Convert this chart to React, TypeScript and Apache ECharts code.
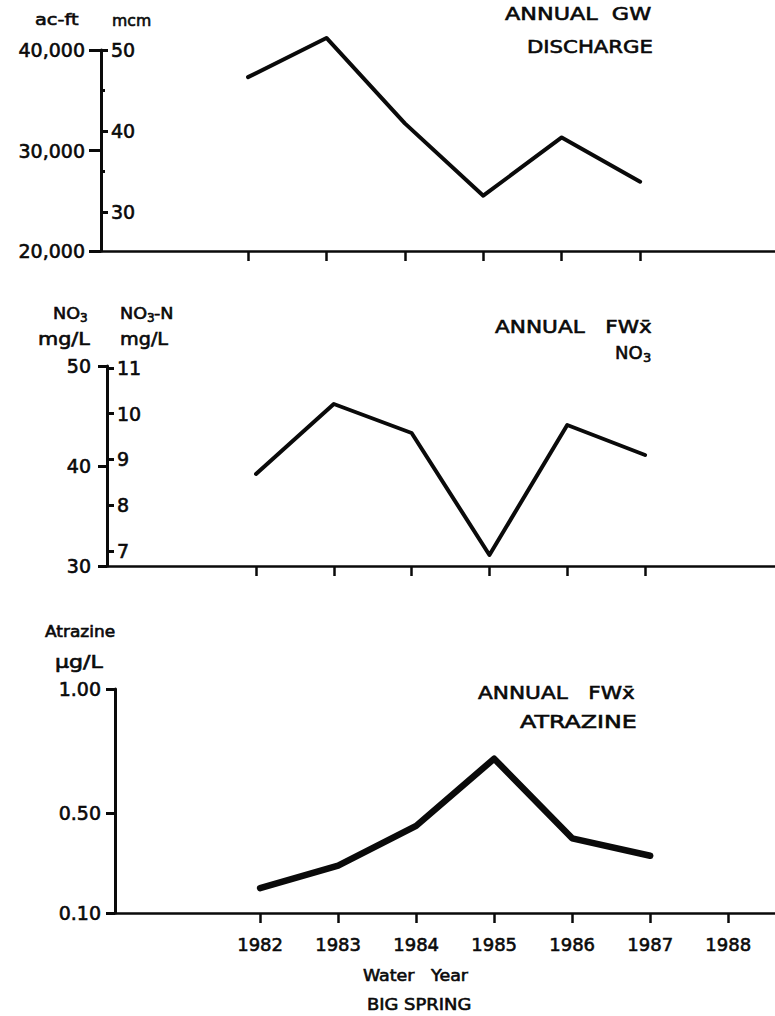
import React, { useEffect, useRef } from "react";
import * as echarts from "echarts";

const years = [1982, 1983, 1984, 1985, 1986, 1987];
const axisYearsTop = [1982, 1983, 1984, 1985, 1986, 1987];
const axisYearsBottom = [1982, 1983, 1984, 1985, 1986, 1987, 1988];
const dischargeAcFt = [37300, 41200, 32700, 25500, 31300, 26900];
const no3 = [39.2, 46.2, 43.3, 31.1, 44.1, 41.1];
const atrazine = [0.2, 0.29, 0.45, 0.72, 0.4, 0.33];
const acFtTicks = [20000, 30000, 40000];
const mcmTicks = [30, 40, 50];
const mcmMinorTicks = [35, 45];
const no3Ticks = [30, 40, 50];
const no3nTicks = [7, 8, 9, 10, 11];
const atrazineTicks = [0.1, 0.5, 1.0];

const FONT = "DejaVu Sans";
const INK = "#0a0a0a";
const SP = "\u00a0";

function pairs(vals: number[]) {
  return years.map((y, i) => [y, vals[i]]);
}

function txt(x: number, y: number, text: string, size: number, scaleX = 1) {
  return {
    type: "text",
    x,
    y,
    scaleX,
    style: {
      text,
      fill: INK,
      stroke: INK,
      lineWidth: 0.6,
      font: `${size}px "${FONT}"`,
      textAlign: "left",
      textVerticalAlign: "middle",
    },
  };
}

export default function App() {
  const ref = useRef<HTMLDivElement>(null);
  useEffect(() => {
    if (!ref.current) return;
    const chart = echarts.init(ref.current, null, { renderer: "svg" });

    const labelStyle = {
      color: INK,
      fontFamily: FONT,
      textBorderColor: INK,
      textBorderWidth: 0.6,
    };

    const xAxisBase = (gridIndex: number, min: number, max: number, ticks: number[], showLabels: boolean) => ({
      type: "value",
      gridIndex,
      min,
      max,
      position: "bottom",
      axisLine: { show: true, onZero: false, lineStyle: { color: INK, width: 2.5 } },
      axisTick: { show: true, customValues: ticks, length: 10, lineStyle: { color: INK, width: 2.5 } },
      axisLabel: {
        show: showLabels,
        customValues: ticks,
        formatter: (v: number) => String(v),
        ...labelStyle,
        fontSize: 18,
        margin: 22,
      },
      splitLine: { show: false },
    });

    const yLeft = (gridIndex: number, min: number, max: number, ticks: number[], fmt: (v: number) => string, tickLen: number, margin: number) => ({
      type: "value",
      gridIndex,
      min,
      max,
      position: "left",
      axisLine: { show: true, onZero: false, lineStyle: { color: INK, width: 3 } },
      axisTick: { show: true, customValues: ticks, length: tickLen, lineStyle: { color: INK, width: 3 } },
      axisLabel: { customValues: ticks, formatter: fmt, ...labelStyle, fontSize: 19, margin },
      splitLine: { show: false },
    });

    const yInside = (gridIndex: number, min: number, max: number, ticks: number[], tickLen: number, showLabels: boolean) => ({
      type: "value",
      gridIndex,
      min,
      max,
      position: "left",
      axisLine: { show: false, onZero: false },
      axisTick: { show: true, inside: true, customValues: ticks, length: tickLen, lineStyle: { color: INK, width: 3 } },
      axisLabel: {
        show: showLabels,
        inside: true,
        customValues: ticks,
        formatter: (v: number) => String(v),
        ...labelStyle,
        fontSize: 19,
        margin: 10,
      },
      splitLine: { show: false },
    });

    const lineSeries = (xi: number, yi: number, data: number[][], width: number) => ({
      type: "line",
      xAxisIndex: xi,
      yAxisIndex: yi,
      data,
      symbol: "none",
      clip: false,
      lineStyle: { color: INK, width, join: "round", cap: "round" },
    });

    chart.setOption({
      animation: false,
      backgroundColor: "#fff",
      grid: [
        { left: 101, top: 50, width: 674, height: 201 },
        { left: 107, top: 366, width: 668, height: 200 },
        { left: 115, top: 689, width: 660, height: 224 },
      ],
      xAxis: [
        xAxisBase(0, 1980.125, 1988.72, axisYearsTop, false),
        xAxisBase(1, 1980.085, 1988.67, axisYearsTop, false),
        xAxisBase(2, 1980.14, 1988.6, axisYearsBottom, true),
      ],
      yAxis: [
        yLeft(0, 20000, 40000, acFtTicks, (v: number) => v.toLocaleString("en-US"), 12, 16),
        yInside(0, 25.2, 50, mcmTicks, 7, true),
        yInside(0, 25.2, 50, mcmMinorTicks, 4, false),
        yLeft(1, 30, 50, no3Ticks, (v: number) => String(v), 9, 16),
        yInside(1, 6.67, 11.04, no3nTicks, 7, true),
        yLeft(2, 0.1, 1.0, atrazineTicks, (v: number) => v.toFixed(2), 9, 14),
      ],
      series: [
        lineSeries(0, 0, pairs(dischargeAcFt), 4),
        lineSeries(1, 3, pairs(no3), 4),
        lineSeries(2, 5, pairs(atrazine), 6.5),
      ],
      graphic: [
        txt(35, 20, "ac-ft", 16, 1.21),
        txt(112, 20, "mcm", 16, 0.98),
        txt(505, 14, `ANNUAL${SP}${SP}GW`, 18, 1.24),
        txt(527, 47, "DISCHARGE", 18, 1.18),

        txt(53, 313, "NO", 16, 1.1),
        txt(80, 318, "3", 12),
        txt(38, 339, "mg/L", 17, 1.22),
        txt(120, 313, "NO", 16, 1.1),
        txt(147, 318, "3", 12),
        txt(154, 313, "-N", 16, 1.1),
        txt(120, 339, "mg/L", 17, 1.13),
        txt(495, 327, `ANNUAL${SP}${SP}${SP}FWx̄`, 18, 1.2),
        txt(615, 352, "NO", 18),
        txt(643, 357, "3", 13),

        txt(45, 632, "Atrazine", 15, 1.13),
        txt(55, 662, "µg/L", 17, 1.3),
        txt(478, 693, `ANNUAL${SP}${SP}${SP}FWx̄`, 18, 1.2),
        txt(520, 722, "ATRAZINE", 18, 1.32),

        txt(363, 975, `Water${SP}${SP}${SP}Year`, 16, 1.09),
        txt(367, 1004, "BIG SPRING", 16, 1.12),
      ],
    });
    return () => chart.dispose();
  }, []);
  return <div ref={ref} style={{ position: "absolute", left: 0, top: 0, width: 775, height: 1016 }} />;
}
